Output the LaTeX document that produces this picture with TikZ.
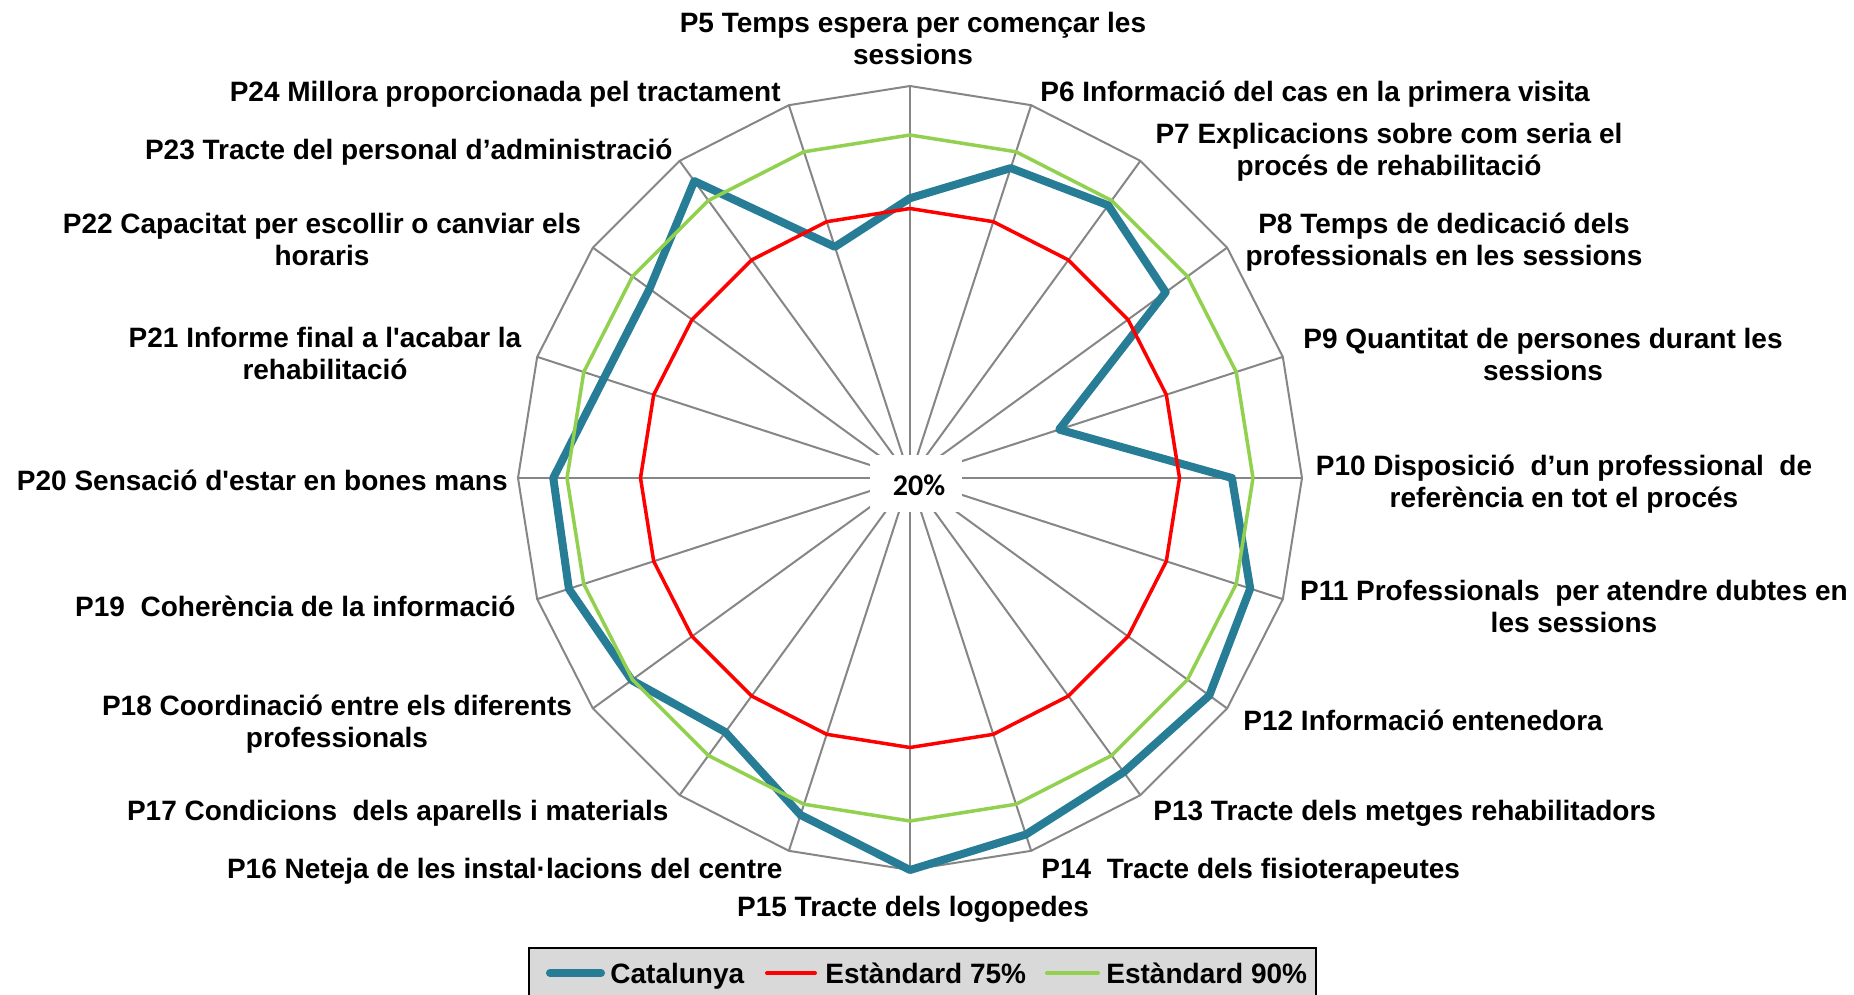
\documentclass[tikz,border=0pt]{standalone}
\usepackage{fontspec}
\newfontfamily\labfont{Liberation Sans}
\newfontfamily\calfont{Carlito}[BoldFont={Carlito Bold}]
\definecolor{spoke}{RGB}{134,134,134}
\definecolor{catblue}{RGB}{39,124,150}
\definecolor{stdred}{RGB}{255,0,0}
\definecolor{stdgreen}{RGB}{146,208,80}
\definecolor{legfill}{RGB}{217,217,217}
\begin{document}
\begin{tikzpicture}[x=0.5pt,y=-0.5pt,
  lab/.style={font=\labfont\bfseries\fontsize{14}{16}\selectfont, inner sep=0pt, text=black},
  gridline/.style={draw=spoke, line width=1pt},
  cat/.style={draw=catblue, line width=4pt, line join=round},
  s75/.style={draw=stdred, line width=1.75pt, line join=round},
  s90/.style={draw=stdgreen, line width=1.75pt, line join=round},
  legbox/.style={draw=black, line width=1pt, fill=legfill, inner sep=0pt}]
\useasboundingbox[fill=white] (0,0) rectangle (1854,995);
\coordinate (O) at (910,478);
% outer vertices, standards
\foreach \k in {5,...,24} {
  \pgfmathsetmacro\a{90-18*(\k-5)}
  \coordinate (v\k) at ({910+392*cos(\a)},{478-392*sin(\a)});
  \coordinate (r\k) at ({910+269.5*cos(\a)},{478-269.5*sin(\a)});
  \coordinate (g\k) at ({910+343*cos(\a)},{478-343*sin(\a)});
}
% Catalunya
\foreach \k/\v in {5/77.1,6/86.5,7/88.8,8/84.5,9/52,10/85.7,11/93,12/95.5,13/94.2,14/96.5,15/100,16/92.3,17/84.1,18/90.2,19/93.2,20/92.8,21/85.7,22/85.7,23/94.9,24/69.6} {
  \pgfmathsetmacro\a{90-18*(\k-5)}
  \pgfmathsetmacro\rr{(\v-20)/80*392}
  \coordinate (c\k) at ({910+\rr*cos(\a)},{478-\rr*sin(\a)});
}
% grid
\foreach \k in {5,...,24} \draw[gridline] (O) -- (v\k);
\draw[gridline] (v5)--(v6)--(v7)--(v8)--(v9)--(v10)--(v11)--(v12)--(v13)--(v14)--(v15)--(v16)--(v17)--(v18)--(v19)--(v20)--(v21)--(v22)--(v23)--(v24)--cycle;
\node[fill=white, minimum width=46pt, minimum height=28.5pt, inner sep=0pt] (ctr) at (916,483.5) {};
\node[inner sep=0pt, font=\calfont\bfseries\fontsize{15}{15}\selectfont] (pct) at (919,485) {20\%};
% series
\draw[cat] (c5)--(c6)--(c7)--(c8)--(c9)--(c10)--(c11)--(c12)--(c13)--(c14)--(c15)--(c16)--(c17)--(c18)--(c19)--(c20)--(c21)--(c22)--(c23)--(c24)--cycle;
\draw[s75] (r5)--(r6)--(r7)--(r8)--(r9)--(r10)--(r11)--(r12)--(r13)--(r14)--(r15)--(r16)--(r17)--(r18)--(r19)--(r20)--(r21)--(r22)--(r23)--(r24)--cycle;
\draw[s90] (g5)--(g6)--(g7)--(g8)--(g9)--(g10)--(g11)--(g12)--(g13)--(g14)--(g15)--(g16)--(g17)--(g18)--(g19)--(g20)--(g21)--(g22)--(g23)--(g24)--cycle;
% labels
\node[lab, anchor=base] (l5a) at (913,33) {P5 Temps espera per començar les};
\node[lab, anchor=base] (l5b) at (913,65) {sessions};
\node[lab, anchor=base west] (l6) at (1040,101.5) {P6 Informació del cas en la primera visita};
\node[lab, anchor=base] (l7a) at (1389,144) {P7 Explicacions sobre com seria el};
\node[lab, anchor=base] (l7b) at (1389,176) {procés de rehabilitació};
\node[lab, anchor=base] (l8a) at (1444,233.5) {P8 Temps de dedicació dels};
\node[lab, anchor=base] (l8b) at (1444,265.5) {professionals en les sessions};
\node[lab, anchor=base] (l9a) at (1543,348) {P9 Quantitat de persones durant les};
\node[lab, anchor=base] (l9b) at (1543,380) {sessions};
\node[lab, anchor=base] (l10a) at (1564,475) {P10 Disposició\ \ d’un professional\ \ de};
\node[lab, anchor=base] (l10b) at (1564,507) {referència en tot el procés};
\node[lab, anchor=base] (l11a) at (1574,600.5) {P11 Professionals\ \ per atendre dubtes en};
\node[lab, anchor=base] (l11b) at (1574,632.5) {les sessions};
\node[lab, anchor=base west] (l12) at (1243,730) {P12 Informació entenedora};
\node[lab, anchor=base west] (l13) at (1153,820) {P13 Tracte dels metges rehabilitadors};
\node[lab, anchor=base west] (l14) at (1041,878) {P14\ \ Tracte dels fisioterapeutes};
\node[lab, anchor=base] (l15) at (913,916) {P15 Tracte dels logopedes};
\node[lab, anchor=base east] (l16) at (783,878) {P16 Neteja de les instal·lacions del centre};
\node[lab, anchor=base east] (l17) at (669,820) {P17 Condicions\ \ dels aparells i materials};
\node[lab, anchor=base] (l18a) at (337,715) {P18 Coordinació entre els diferents};
\node[lab, anchor=base] (l18b) at (337,747) {professionals};
\node[lab, anchor=base east] (l19) at (516,616) {P19\ \ Coherència de la informació};
\node[lab, anchor=base east] (l20) at (508,490.5) {P20 Sensació d'estar en bones mans};
\node[lab, anchor=base] (l21a) at (325,347.5) {P21 Informe final a l'acabar la};
\node[lab, anchor=base] (l21b) at (325,379.5) {rehabilitació};
\node[lab, anchor=base] (l22a) at (322,233.5) {P22 Capacitat per escollir o canviar els};
\node[lab, anchor=base] (l22b) at (322,265.5) {horaris};
\node[lab, anchor=base east] (l23) at (673,160) {P23 Tracte del personal d’administració};
\node[lab, anchor=base east] (l24) at (781,101.5) {P24 Millora proporcionada pel tractament};
% legend
\begin{scope}
\clip (0,0) rectangle (1854,995);
\node[legbox, anchor=north west, minimum width=393.5pt, minimum height=40pt] (legend) at (528,947) {};
\end{scope}
\draw[cat, line cap=round] (550,973) -- (601,973);
\draw[s75, line width=2pt, line cap=round] (767,973) -- (815,973);
\draw[s90, line width=2pt, line cap=round] (1047,973) -- (1098,973);
\node[lab, anchor=base west] (legc) at (610,983) {Catalunya};
\node[lab, anchor=base west] (leg75) at (825,983) {Estàndard 75\%};
\node[lab, anchor=base west] (leg90) at (1106,983) {Estàndard 90\%};
\end{tikzpicture}
\end{document}
